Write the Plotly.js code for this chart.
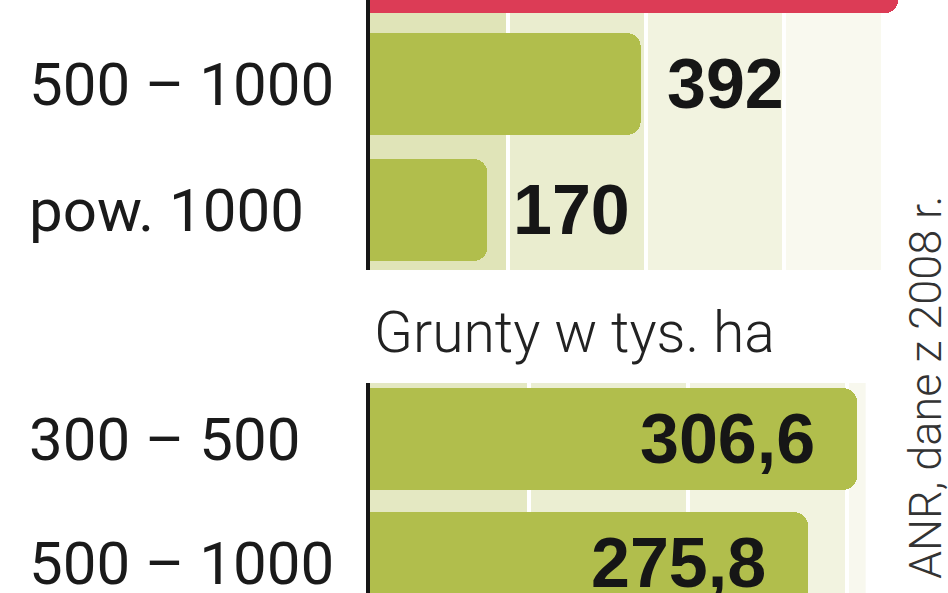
<!DOCTYPE html>
<html>
<head>
<meta charset="utf-8">
<script src="https://cdn.plot.ly/plotly-3.0.1.min.js"></script>
<style>
  html, body { margin: 0; padding: 0; background: #fff; }
  #chart { width: 948px; height: 593px; }
</style>
</head>
<body>
<div id="chart"></div>
<script>
// top panel (the red row is cut off by the crop, its value is estimated from bar length)
var farmCats = ['300 – 500', '500 – 1000', 'pow. 1000'];
var farmVals = [765, 392, 170];
var farmGrid = [200, 400, 600];

// bottom panel: Grunty w tys. ha
var landCats = ['300 – 500', '500 – 1000'];
var landVals = [306.6, 275.8];
var landGrid = [100, 200, 300];

var landTitle = 'Grunty w tys. ha';
var sourceText = 'ANR, dane z 2008 r.';

var W = 948, H = 593;
var axisX = 370 / W;

function fmt(v) {
  return String(v).replace('.', ',');
}

var green = '#b1be4c', red = '#dc3c56';

var traces = [
  {
    type: 'bar', orientation: 'h',
    x: farmVals, y: farmCats,
    xaxis: 'x', yaxis: 'y',
    width: farmVals.map(function (v, i) { return i === 0 ? 0.88 : 0.81; }),
    marker: {
      color: farmVals.map(function (v, i) { return i === 0 ? red : green; }),
      cornerradius: 14, line: {width: 0}
    },
    hoverinfo: 'none'
  },
  {
    type: 'bar', orientation: 'h',
    x: landVals, y: landCats,
    xaxis: 'x2', yaxis: 'y2',
    width: 0.82,
    marker: {color: green, cornerradius: 14, line: {width: 0}},
    hoverinfo: 'none'
  }
];

var labelFont = {family: 'Roboto, "Liberation Sans", sans-serif', size: 60, color: '#1a1a1a'};
var valueFont = {family: '"Liberation Sans", Arial, sans-serif', size: 70, color: '#161616', weight: 'bold'};

var annotations = [];

// row labels, left aligned
farmCats.forEach(function (c, i) {
  if (i === 0) return; // row label is off the crop
  annotations.push({xref: 'paper', yref: 'y', x: 27 / W, y: c, xanchor: 'left', yanchor: 'middle',
    text: c, showarrow: false, font: labelFont});
});
landCats.forEach(function (c) {
  annotations.push({xref: 'paper', yref: 'y2', x: 27 / W, y: c, xanchor: 'left', yanchor: 'middle',
    text: c, showarrow: false, font: labelFont});
});

// value labels
farmVals.forEach(function (v, i) {
  if (i === 0) return;
  annotations.push({xref: 'x', yref: 'y', x: v, y: farmCats[i], xanchor: 'left', yanchor: 'middle',
    xshift: 24, text: fmt(v), showarrow: false, font: valueFont});
});
landVals.forEach(function (v, i) {
  annotations.push({xref: 'x2', yref: 'y2', x: v, y: landCats[i], xanchor: 'right', yanchor: 'middle',
    xshift: -40, text: fmt(v), showarrow: false, font: valueFont});
});

annotations.push({xref: 'paper', yref: 'paper', x: 372 / W, y: (H - 333) / H,
  xanchor: 'left', yanchor: 'middle', text: landTitle, showarrow: false,
  font: {family: 'Roboto, sans-serif', size: 57, color: '#222', weight: 300}});

annotations.push({xref: 'paper', yref: 'paper', x: 925 / W, y: (H - 388) / H,
  xanchor: 'center', yanchor: 'middle', textangle: -90, text: sourceText, showarrow: false,
  font: {family: 'Roboto, sans-serif', size: 45, color: '#333', weight: 300}});

// stepped cream background between grid lines
var shapes = [];
var farmBands = [[0, 200, '#e0e4b8'], [200, 400, '#eaedcf'], [400, 600, '#f2f3e0'], [600, 740, '#f9f9ef']];
farmBands.forEach(function (b) {
  shapes.push({type: 'rect', layer: 'below', xref: 'x', yref: 'y domain', x0: b[0], x1: b[1], y0: 0, y1: 1,
    fillcolor: b[2], line: {width: 0}});
});
var landBands = [[0, 100, '#e4e8c2'], [100, 200, '#ebeed2'], [200, 300, '#f2f3e0'], [300, 312, '#f8f8ee']];
landBands.forEach(function (b) {
  shapes.push({type: 'rect', layer: 'below', xref: 'x2', yref: 'y2 domain', x0: b[0], x1: b[1], y0: 0, y1: 1,
    fillcolor: b[2], line: {width: 0}});
});

var xCommon = {
  showticklabels: false, ticks: '', zeroline: false, showline: false,
  showgrid: true, gridcolor: '#ffffff', gridwidth: 4, tickmode: 'array',
  layer: 'above traces', fixedrange: true
};
var yCommon = {
  type: 'category', showticklabels: false, ticks: '', showgrid: false, zeroline: false,
  showline: true, linecolor: '#161616', linewidth: 4, fixedrange: true
};

var layout = {
  width: W, height: H,
  margin: {l: 0, r: 0, t: 0, b: 0},
  paper_bgcolor: '#ffffff', plot_bgcolor: 'rgba(0,0,0,0)',
  showlegend: false, bargap: 0,
  xaxis: Object.assign({}, xCommon, {domain: [axisX, 910 / W], range: [0, 782], tickvals: farmGrid, anchor: 'y'}),
  yaxis: Object.assign({}, yCommon, {domain: [1 - 270 / H, 1], range: [2.476, 0.333], anchor: 'x',
    categoryorder: 'array', categoryarray: farmCats}),
  xaxis2: Object.assign({}, xCommon, {domain: [axisX, 872 / W], range: [0, 316], tickvals: landGrid, anchor: 'y2'}),
  yaxis2: Object.assign({}, yCommon, {domain: [0, 210 / H], range: [1.242, -0.452], anchor: 'x2',
    categoryorder: 'array', categoryarray: landCats}),
  annotations: annotations,
  shapes: shapes
};

Plotly.newPlot('chart', traces, layout, {staticPlot: true, displayModeBar: false});
</script>
</body>
</html>
